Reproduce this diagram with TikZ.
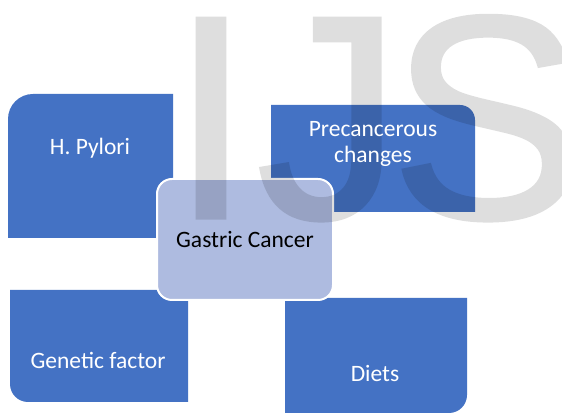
\documentclass[tikz,border=0pt]{standalone}
\usepackage{fontspec}
\setmainfont{Carlito}
\newfontfamily\wmfont[FakeBold=1.2]{Liberation Sans}
\definecolor{boxblue}{HTML}{4472C4}
\definecolor{centerblue}{HTML}{AEBBE0}
\tikzset{
  bluebox/.style={fill=boxblue},
  boxtext/.style={text=white, font=\fontsize{23.5}{26}\selectfont, align=center, inner sep=0pt},
  wmletter/.style={text=black, font=\wmfont\fontsize{290}{290}\selectfont, inner sep=0pt, anchor=base},
}
\begin{document}
\begin{tikzpicture}[x=1pt,y=1pt]
\fill[white] (0,0) rectangle (562,414);
\useasboundingbox (0,0) rectangle (562,414);
% blue boxes
\fill[bluebox] (8,176) -- (8,295) arc[start angle=180,end angle=90,radius=25pt] -- (173,320) -- (173,176) -- cycle;
\fill[bluebox] (271,202) -- (271,309) -- (460,309) arc[start angle=90,end angle=0,radius=15pt] -- (475,202) -- cycle;
\fill[bluebox] (10,124) -- (10,30) arc[start angle=180,end angle=270,radius=18pt] -- (188,12) -- (188,124) -- cycle;
\fill[bluebox] (285,116) -- (285,1) -- (449,1) arc[start angle=270,end angle=360,radius=18pt] -- (467,116) -- cycle;
% center box
\node[draw=white, line width=2pt, fill=centerblue, rounded corners=15pt, minimum width=176pt, minimum height=121pt, inner sep=0pt] (gcbox) at (245,174.5) {};
% watermark
\begin{scope}[transparency group, opacity=0.13]
\node[wmletter] (wmI) at (211,196) {I};
\node[wmletter] (wmJ) at (329,196) {J};
\node[wmletter] (wmS) at (487,196) {S};
\end{scope}
% texts
\node[boxtext] (hp) at (90,266) {H. Pylori};
\node[boxtext] (pc) at (373,270) {Precancerous\\changes};
\node[boxtext, text=black] (gc) at (245,174) {Gastric Cancer};
\node[boxtext] (gf) at (98,54) {Genetic factor};
\node[boxtext] (di) at (375,40) {Diets};
\end{tikzpicture}
\end{document}
